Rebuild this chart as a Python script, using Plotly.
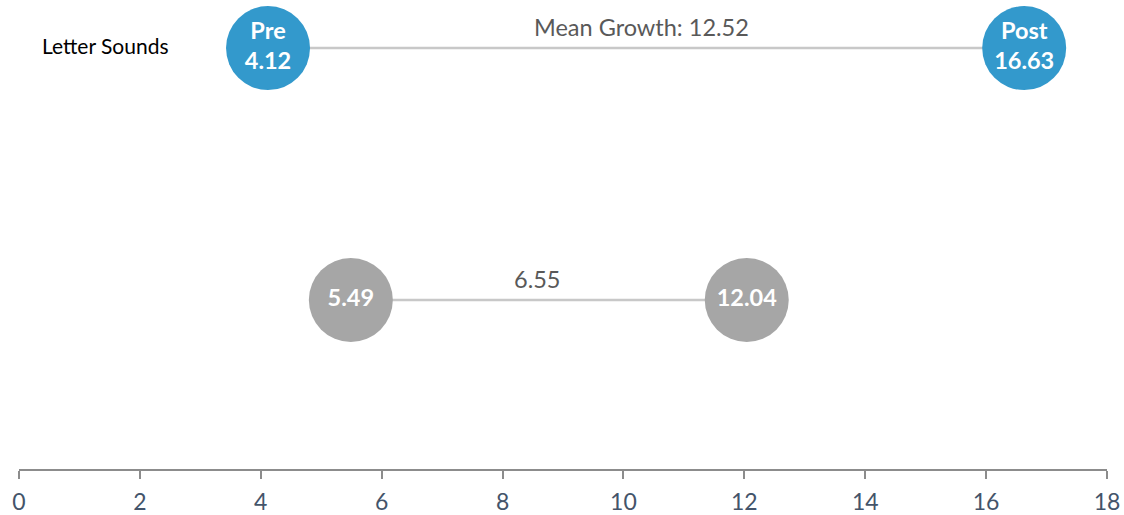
import plotly.graph_objects as go

# Assessment rows (top to bottom) and their pre/post means
rows = ["Letter Sounds", ""]
row_pos = [2, 1]
pre_scores = [4.12, 5.49]
post_scores = [16.63, 12.04]
growth = [12.52, 6.55]
growth_prefix = ["Mean Growth: ", ""]
show_phase = [True, False]
row_colors = ["#3399CC", "#A6A6A6"]

x_ticks = list(range(0, 19, 2))

FONT = "Lato"
label_xshift = [-5, -12]
fig = go.Figure()

for i, y in enumerate(row_pos):
    # connector between pre and post
    fig.add_trace(go.Scatter(
        x=[pre_scores[i], post_scores[i]], y=[y, y], mode="lines",
        line=dict(color="#C8C8C8", width=2.5), hoverinfo="skip", showlegend=False,
    ))
    if show_phase[i]:
        labels = [f"<b>Pre</b><br><b>{pre_scores[i]:.2f}</b>",
                  f"<b>Post</b><br><b>{post_scores[i]:.2f}</b>"]
    else:
        labels = [f"<b>{pre_scores[i]:.2f}</b>", f"<b>{post_scores[i]:.2f}</b>"]
    fig.add_trace(go.Scatter(
        x=[pre_scores[i], post_scores[i]], y=[y, y], mode="markers+text",
        marker=dict(size=84, color=row_colors[i], line=dict(width=0)),
        text=labels, textposition="middle center",
        textfont=dict(family=FONT, size=23.5, color="white"),
        hoverinfo="skip", showlegend=False,
    ))
    fig.add_annotation(
        x=(pre_scores[i] + post_scores[i]) / 2, y=y, yshift=21,
        xshift=label_xshift[i],
        text=f"{growth_prefix[i]}{growth[i]:.2f}", showarrow=False,
        font=dict(family=FONT, size=23.5, color="#595959"),
        xanchor="center", yanchor="middle",
    )
    if rows[i]:
        fig.add_annotation(
            x=0.35, y=y, yshift=3, text=rows[i], showarrow=False,
            font=dict(family=FONT, size=21, color="#000000"),
            xanchor="left", yanchor="middle",
        )

fig.update_layout(
    width=1124, height=515,
    margin=dict(l=19, r=17, t=0, b=46),
    paper_bgcolor="white", plot_bgcolor="white",
    xaxis=dict(
        range=[0, 18], tickvals=x_ticks, ticktext=[str(t) for t in x_ticks],
        showgrid=False, zeroline=False, showline=True,
        linecolor="#8C8C8C", linewidth=2,
        ticks="outside", ticklen=8, tickwidth=2, tickcolor="#8C8C8C",
        ticklabelstandoff=3,
        tickfont=dict(family=FONT, size=23, color="#44546A"),
        fixedrange=True,
    ),
    yaxis=dict(
        range=[0.3294, 2.191], visible=False, fixedrange=True,
    ),
)

fig.write_html("out.html")
